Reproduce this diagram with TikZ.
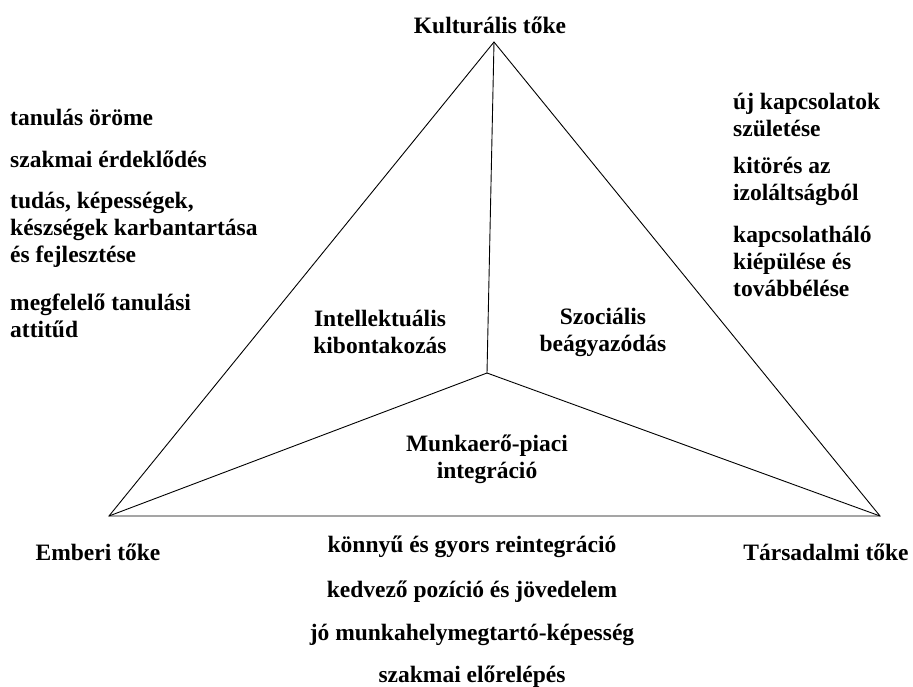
\documentclass[tikz,border=0pt]{standalone}
\usepackage{fontspec}
\setmainfont{Liberation Serif}
\begin{document}
\begin{tikzpicture}[x=1pt,y=-1pt,
    lbl/.style={font=\fontsize{23.5}{27}\selectfont\bfseries, inner sep=0pt, align=center},
    item/.style={lbl, align=left, anchor=west},
    edge/.style={line width=0.9pt}]
\useasboundingbox (0,0) rectangle (913,687);

\coordinate (kult) at (494,42); % Kulturalis
\coordinate (emb) at (109,516); % Emberi
\coordinate (tars) at (880,516); % Tarsadalmi
\coordinate (mid) at (487,373); % center

\draw[edge] (kult) -- (emb) -- (tars) -- cycle;
\draw[edge] (mid) -- (kult);
\draw[edge] (mid) -- (emb);
\draw[edge] (mid) -- (tars);

% corner labels
\node[lbl] (kultlbl) at (490,25) {Kulturális tőke};
\node[lbl] (emblbl) at (98,552) {Emberi tőke};
\node[lbl] (tarslbl) at (826,552) {Társadalmi tőke};

% inner labels
\node[lbl] (intel) at (380,332) {Intellektuális\\kibontakozás};
\node[lbl] (szoc) at (603,332) {Szociális\\beágyazódás};
\node[lbl] (munka) at (487,459) {Munkaerő-piaci\\integráció};

% left list
\node[item] (l1) at (10,117) {tanulás öröme};
\node[item] (l2) at (10,159) {szakmai érdeklődés};
\node[item] (l3) at (10,230) {tudás, képességek,\\készségek karbantartása\\és fejlesztése};
\node[item] (l4) at (10,316) {megfelelő tanulási\\attitűd};

% right list
\node[item] (r1) at (733,115) {új kapcsolatok\\születése};
\node[item] (r2) at (733,181) {kitörés az\\izoláltságból};
\node[item] (r3) at (733,261) {kapcsolatháló\\kiépülése és\\továbbélése};

% bottom list
\node[lbl] (b1) at (472,547) {könnyű és gyors reintegráció};
\node[lbl] (b2) at (472,592) {kedvező pozíció és jövedelem};
\node[lbl] (b3) at (472,635) {jó munkahelymegtartó-képesség};
\node[lbl] (b4) at (472,677) {szakmai előrelépés};
\end{tikzpicture}
\end{document}
